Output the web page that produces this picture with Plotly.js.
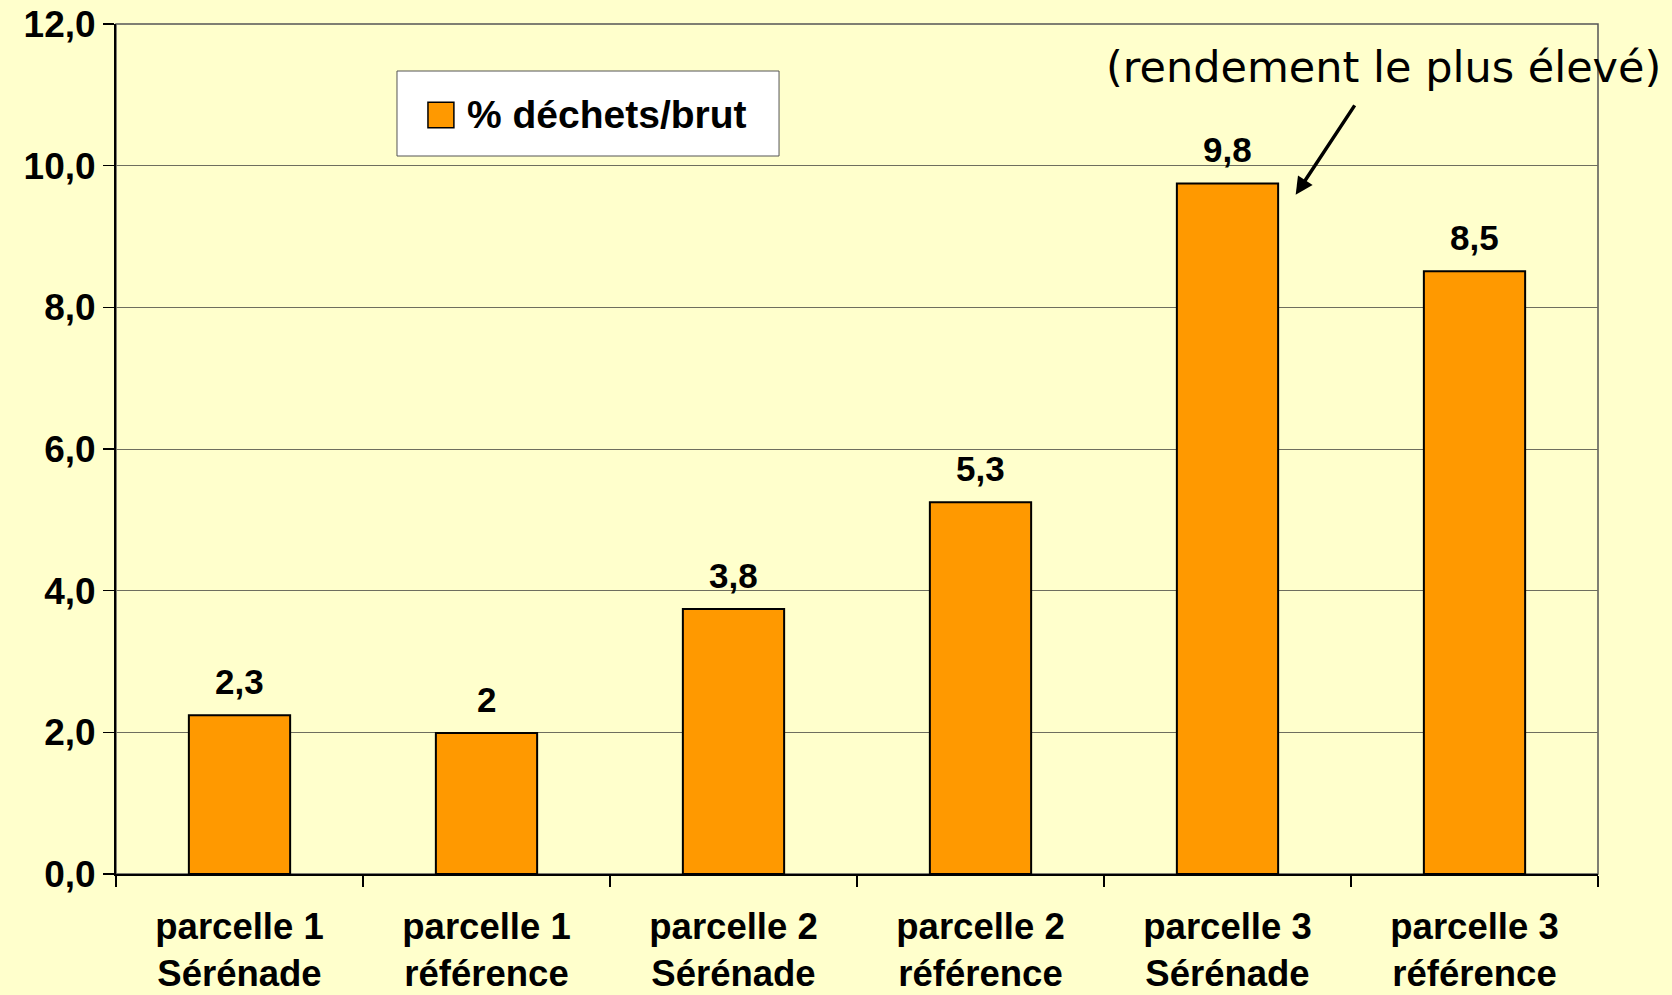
<!DOCTYPE html>
<html>
<head>
<meta charset="utf-8">
<script src="https://cdn.plot.ly/plotly-3.0.1.min.js"></script>
<style>html,body{margin:0;padding:0;background:#FFFFCC;}#chart{width:1672px;height:995px;}</style>
</head>
<body>
<div id="chart"></div>
<script>
const categories = ['parcelle 1<br>Sérénade', 'parcelle 1<br>référence', 'parcelle 2<br>Sérénade', 'parcelle 2<br>référence', 'parcelle 3<br>Sérénade', 'parcelle 3<br>référence'];
const values = [2.24, 1.99, 3.74, 5.25, 9.75, 8.51];
const valueLabels = ['2,3', '2', '3,8', '5,3', '9,8', '8,5'];
const seriesName = '% déchets/brut';
const noteText = '(rendement le plus élevé)';
const yTicks = [0, 2, 4, 6, 8, 10, 12];

const barColor = '#FF9900';
const bold = {family: 'Liberation Sans, Arial, sans-serif', color: '#000', weight: 'bold'};

const trace = {
  type: 'bar',
  x: categories,
  y: values,
  name: seriesName,
  marker: {color: barColor, line: {color: '#000', width: 2}},
  width: 0.41,
  showlegend: false,
  hoverinfo: 'skip'
};

const labelAnnotations = categories.map((c, i) => ({
  x: c, y: values[i], xref: 'x', yref: 'y',
  text: valueLabels[i], showarrow: false,
  yanchor: 'bottom', yshift: 12,
  font: Object.assign({}, bold, {size: 35})
}));

const layout = {
  width: 1672, height: 995,
  paper_bgcolor: '#FFFFCC', plot_bgcolor: '#FFFFCC',
  separators: ', ',
  margin: {l: 116, r: 74, t: 24, b: 121, pad: 0},
  xaxis: {
    type: 'category',
    showline: true, linecolor: '#000', linewidth: 2,
    ticks: 'outside', tickson: 'boundaries', ticklen: 11, tickcolor: '#000', tickwidth: 1.5,
    ticklabelstandoff: 19,
    tickfont: Object.assign({}, bold, {size: 36.5}),
    showgrid: false, zeroline: false, automargin: false
  },
  yaxis: {
    range: [0, 12], tickvals: yTicks, tickformat: '.1f',
    showline: true, linecolor: '#000', linewidth: 2,
    ticks: 'outside', ticklen: 11, tickcolor: '#000', tickwidth: 1.5,
    tickfont: Object.assign({}, bold, {size: 37}),
    showgrid: true, gridcolor: '#6e6e5e', gridwidth: 1,
    zeroline: false, automargin: false
  },
  showlegend: false,
  shapes: [
    {type: 'rect', xref: 'paper', yref: 'paper', x0: 0, x1: 1, y0: 0, y1: 1,
     line: {color: '#555', width: 1.5}, layer: 'below'},
    {type: 'rect', xref: 'paper', yref: 'paper', x0: 0.1896, x1: 0.4474, y0: 0.8447, y1: 0.9447,
     fillcolor: '#FFFFFF', line: {color: '#555', width: 1}, layer: 'above'},
    {type: 'rect', xref: 'paper', yref: 'paper', x0: 0.2105, x1: 0.228, y0: 0.878, y1: 0.908,
     fillcolor: barColor, line: {color: '#000', width: 1.5}, layer: 'above'}
  ],
  annotations: labelAnnotations.concat([
    {
      xref: 'paper', yref: 'paper', x: 0.2355, y: 0.893,
      text: seriesName, showarrow: false, xanchor: 'left', yanchor: 'middle',
      font: Object.assign({}, bold, {size: 39})
    },
    {
      xref: 'paper', yref: 'paper', x: 0.855, y: 0.949,
      text: noteText, showarrow: false,
      xanchor: 'center', yanchor: 'middle',
      font: {family: 'DejaVu Sans, sans-serif', size: 43, color: '#000'}
    },
    {
      xref: 'paper', yref: 'paper', x: 0.796, y: 0.799,
      text: '', showarrow: true,
      ax: 60, ay: -91, arrowhead: 2, arrowsize: 1, arrowwidth: 3.5, arrowcolor: '#000'
    }
  ])
};

Plotly.newPlot('chart', [trace], layout, {displayModeBar: false, staticPlot: true});
</script>
</body>
</html>
